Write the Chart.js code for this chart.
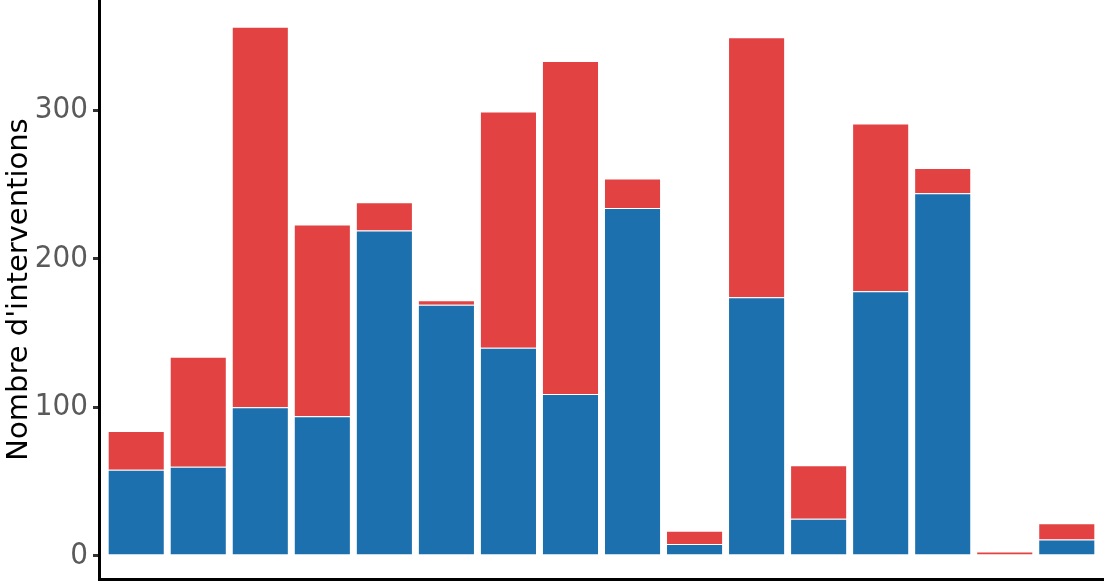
<!DOCTYPE html>
<html>
<head>
<meta charset="utf-8">
<script src="https://cdn.jsdelivr.net/npm/chart.js@4"></script>
<style>
    html, body { margin: 0; padding: 0; background: #fff; }
    #wrap { width: 1104px; height: 583px; }
</style>
</head>
<body>
<div id="wrap"><canvas id="chart"></canvas></div>
<script>
/* =========================
   DATA
========================= */

const categories = ["1", "2", "3", "4", "5", "6", "7", "8", "9", "10", "11", "12", "13", "14", "15", "16"];
const blueValues = [58, 60, 100, 94, 219, 169, 140, 109, 234, 8, 174, 25, 178, 244, 1, 11];
const redValues = [26, 74, 256, 129, 19, 3, 159, 224, 20, 9, 175, 36, 113, 17, 2, 11];
const yTicks = [0, 100, 200, 300];
const yMin = -15.5;
const yMax = 374;

const yTitle = "Nombre d'interventions";

/* =========================
   CHART
========================= */

const toPoints = values => values.map((v, i) => ({ x: i, y: v }));

new Chart(document.getElementById("chart"), {
    type: "bar",
    data: {
        datasets: [
            {
                label: "blue",
                data: toPoints(blueValues),
                backgroundColor: "#1c70ad",
                borderColor: "rgba(255,255,255,0.35)",
                borderWidth: 1,
                barPercentage: 0.92,
                categoryPercentage: 1
            },
            {
                label: "red",
                data: toPoints(redValues),
                backgroundColor: "#e34242",
                borderColor: "rgba(255,255,255,0.35)",
                borderWidth: 1,
                barPercentage: 0.92,
                categoryPercentage: 1
            }
        ]
    },
    options: {
        responsive: true,
        maintainAspectRatio: false,
        animation: false,
        layout: { padding: 0 },
        plugins: {
            legend: { display: false },
            tooltip: { enabled: false }
        },
        scales: {
            x: {
                type: "linear",
                stacked: true,
                offset: false,
                min: -0.6,
                max: categories.length - 1 + 0.6,
                ticks: { display: false },
                grid: { display: false },
                border: { display: true, color: "#000", width: 3 },
                afterFit: scale => {
                    scale.height = 4;
                    scale.paddingLeft = 0;
                    scale.paddingRight = 0;
                }
            },
            y: {
                stacked: true,
                min: yMin,
                max: yMax,
                afterBuildTicks: scale => {
                    scale.ticks = yTicks.map(v => ({ value: v }));
                },
                ticks: {
                    color: "#5a5a5a",
                    padding: 5,
                    font: { family: "'Liberation Sans Narrow', 'DejaVu Sans Condensed', sans-serif", size: 31 }
                },
                grid: {
                    drawOnChartArea: false,
                    drawTicks: true,
                    tickLength: 6,
                    lineWidth: 3,
                    color: "#333"
                },
                border: { display: true, color: "#000", width: 3 },
                title: {
                    display: true,
                    text: yTitle,
                    color: "#000",
                    padding: { top: 2, bottom: 2 },
                    font: { family: "'DejaVu Sans', sans-serif", size: 29 }
                },
                afterFit: scale => {
                    scale.width = 99;
                    scale.paddingTop = 0;
                    scale.paddingBottom = 0;
                }
            }
        }
    }
});
</script>
</body>
</html>
